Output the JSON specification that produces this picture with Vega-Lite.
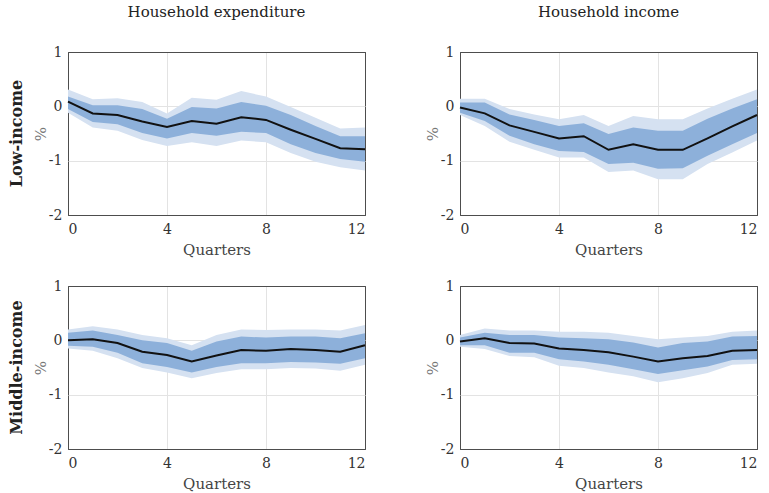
{
  "$schema": "https://vega.github.io/schema/vega-lite/v6.json",
  "background": "white",
  "padding": {"left": 8, "top": 5, "right": 1, "bottom": 2},
  "data": {"values": [
    {"r":"Low-income","c":"Household expenditure","q":0,"m":0.085,"l1":-0.05,"h1":0.18,"l2":-0.12,"h2":0.31},
    {"r":"Low-income","c":"Household expenditure","q":1,"m":-0.13,"l1":-0.29,"h1":0.02,"l2":-0.39,"h2":0.13},
    {"r":"Low-income","c":"Household expenditure","q":2,"m":-0.16,"l1":-0.33,"h1":0.02,"l2":-0.45,"h2":0.15},
    {"r":"Low-income","c":"Household expenditure","q":3,"m":-0.28,"l1":-0.49,"h1":-0.05,"l2":-0.62,"h2":0.08},
    {"r":"Low-income","c":"Household expenditure","q":4,"m":-0.38,"l1":-0.59,"h1":-0.23,"l2":-0.73,"h2":-0.13},
    {"r":"Low-income","c":"Household expenditure","q":5,"m":-0.27,"l1":-0.49,"h1":-0.01,"l2":-0.66,"h2":0.16},
    {"r":"Low-income","c":"Household expenditure","q":6,"m":-0.32,"l1":-0.54,"h1":-0.04,"l2":-0.73,"h2":0.12},
    {"r":"Low-income","c":"Household expenditure","q":7,"m":-0.2,"l1":-0.47,"h1":0.08,"l2":-0.63,"h2":0.28},
    {"r":"Low-income","c":"Household expenditure","q":8,"m":-0.25,"l1":-0.49,"h1":0.01,"l2":-0.66,"h2":0.18},
    {"r":"Low-income","c":"Household expenditure","q":9,"m":-0.43,"l1":-0.7,"h1":-0.16,"l2":-0.86,"h2":-0.01},
    {"r":"Low-income","c":"Household expenditure","q":10,"m":-0.6,"l1":-0.86,"h1":-0.36,"l2":-1.02,"h2":-0.21},
    {"r":"Low-income","c":"Household expenditure","q":11,"m":-0.77,"l1":-0.97,"h1":-0.55,"l2":-1.12,"h2":-0.41},
    {"r":"Low-income","c":"Household expenditure","q":12,"m":-0.79,"l1":-1.02,"h1":-0.55,"l2":-1.18,"h2":-0.39},
    {"r":"Low-income","c":"Household income","q":0,"m":-0.02,"l1":-0.12,"h1":0.07,"l2":-0.16,"h2":0.14},
    {"r":"Low-income","c":"Household income","q":1,"m":-0.13,"l1":-0.27,"h1":0.07,"l2":-0.36,"h2":0.14},
    {"r":"Low-income","c":"Household income","q":2,"m":-0.35,"l1":-0.54,"h1":-0.15,"l2":-0.65,"h2":-0.05},
    {"r":"Low-income","c":"Household income","q":3,"m":-0.47,"l1":-0.7,"h1":-0.25,"l2":-0.8,"h2":-0.15},
    {"r":"Low-income","c":"Household income","q":4,"m":-0.59,"l1":-0.82,"h1":-0.36,"l2":-0.94,"h2":-0.24},
    {"r":"Low-income","c":"Household income","q":5,"m":-0.55,"l1":-0.84,"h1":-0.31,"l2":-0.94,"h2":-0.16},
    {"r":"Low-income","c":"Household income","q":6,"m":-0.8,"l1":-1.06,"h1":-0.51,"l2":-1.21,"h2":-0.36},
    {"r":"Low-income","c":"Household income","q":7,"m":-0.7,"l1":-1.04,"h1":-0.39,"l2":-1.18,"h2":-0.18},
    {"r":"Low-income","c":"Household income","q":8,"m":-0.8,"l1":-1.15,"h1":-0.45,"l2":-1.34,"h2":-0.24},
    {"r":"Low-income","c":"Household income","q":9,"m":-0.8,"l1":-1.14,"h1":-0.45,"l2":-1.34,"h2":-0.24},
    {"r":"Low-income","c":"Household income","q":10,"m":-0.59,"l1":-0.91,"h1":-0.23,"l2":-1.06,"h2":-0.04},
    {"r":"Low-income","c":"Household income","q":11,"m":-0.37,"l1":-0.7,"h1":-0.04,"l2":-0.85,"h2":0.14},
    {"r":"Low-income","c":"Household income","q":12,"m":-0.16,"l1":-0.49,"h1":0.13,"l2":-0.63,"h2":0.31},
    {"r":"Middle-income","c":"Household expenditure","q":0,"m":0.0,"l1":-0.1,"h1":0.14,"l2":-0.15,"h2":0.2},
    {"r":"Middle-income","c":"Household expenditure","q":1,"m":0.02,"l1":-0.12,"h1":0.18,"l2":-0.19,"h2":0.26},
    {"r":"Middle-income","c":"Household expenditure","q":2,"m":-0.05,"l1":-0.23,"h1":0.1,"l2":-0.33,"h2":0.2},
    {"r":"Middle-income","c":"Household expenditure","q":3,"m":-0.21,"l1":-0.42,"h1":0.0,"l2":-0.51,"h2":0.1},
    {"r":"Middle-income","c":"Household expenditure","q":4,"m":-0.27,"l1":-0.49,"h1":-0.05,"l2":-0.59,"h2":0.04},
    {"r":"Middle-income","c":"Household expenditure","q":5,"m":-0.39,"l1":-0.59,"h1":-0.19,"l2":-0.7,"h2":-0.09},
    {"r":"Middle-income","c":"Household expenditure","q":6,"m":-0.28,"l1":-0.49,"h1":-0.02,"l2":-0.6,"h2":0.1},
    {"r":"Middle-income","c":"Household expenditure","q":7,"m":-0.18,"l1":-0.42,"h1":0.07,"l2":-0.53,"h2":0.2},
    {"r":"Middle-income","c":"Household expenditure","q":8,"m":-0.19,"l1":-0.42,"h1":0.05,"l2":-0.53,"h2":0.19},
    {"r":"Middle-income","c":"Household expenditure","q":9,"m":-0.16,"l1":-0.4,"h1":0.07,"l2":-0.51,"h2":0.2},
    {"r":"Middle-income","c":"Household expenditure","q":10,"m":-0.18,"l1":-0.41,"h1":0.07,"l2":-0.52,"h2":0.2},
    {"r":"Middle-income","c":"Household expenditure","q":11,"m":-0.21,"l1":-0.43,"h1":0.04,"l2":-0.56,"h2":0.18},
    {"r":"Middle-income","c":"Household expenditure","q":12,"m":-0.09,"l1":-0.33,"h1":0.13,"l2":-0.45,"h2":0.28},
    {"r":"Middle-income","c":"Household income","q":0,"m":-0.02,"l1":-0.09,"h1":0.05,"l2":-0.12,"h2":0.1},
    {"r":"Middle-income","c":"Household income","q":1,"m":0.04,"l1":-0.09,"h1":0.14,"l2":-0.16,"h2":0.22},
    {"r":"Middle-income","c":"Household income","q":2,"m":-0.05,"l1":-0.23,"h1":0.1,"l2":-0.29,"h2":0.18},
    {"r":"Middle-income","c":"Household income","q":3,"m":-0.06,"l1":-0.23,"h1":0.1,"l2":-0.31,"h2":0.18},
    {"r":"Middle-income","c":"Household income","q":4,"m":-0.15,"l1":-0.35,"h1":0.05,"l2":-0.47,"h2":0.16},
    {"r":"Middle-income","c":"Household income","q":5,"m":-0.18,"l1":-0.39,"h1":0.04,"l2":-0.51,"h2":0.16},
    {"r":"Middle-income","c":"Household income","q":6,"m":-0.22,"l1":-0.45,"h1":0.02,"l2":-0.59,"h2":0.14},
    {"r":"Middle-income","c":"Household income","q":7,"m":-0.3,"l1":-0.53,"h1":-0.04,"l2":-0.66,"h2":0.08},
    {"r":"Middle-income","c":"Household income","q":8,"m":-0.39,"l1":-0.62,"h1":-0.13,"l2":-0.77,"h2":0.02},
    {"r":"Middle-income","c":"Household income","q":9,"m":-0.33,"l1":-0.55,"h1":-0.05,"l2":-0.7,"h2":0.05},
    {"r":"Middle-income","c":"Household income","q":10,"m":-0.29,"l1":-0.48,"h1":-0.02,"l2":-0.6,"h2":0.08},
    {"r":"Middle-income","c":"Household income","q":11,"m":-0.19,"l1":-0.36,"h1":0.07,"l2":-0.45,"h2":0.16},
    {"r":"Middle-income","c":"Household income","q":12,"m":-0.18,"l1":-0.35,"h1":0.08,"l2":-0.43,"h2":0.18}
  ]},
  "facet": {
    "row": {"field": "r", "type": "nominal", "sort": ["Low-income", "Middle-income"],
      "header": {"title": null, "labelFont": "DejaVu Serif", "labelFontSize": 16, "labelFontWeight": "bold", "labelColor": "#222", "labelAngle": -90, "labelPadding": -1}},
    "column": {"field": "c", "type": "nominal", "sort": ["Household expenditure", "Household income"],
      "header": {"title": null, "labelFont": "DejaVu Serif", "labelFontSize": 15, "labelColor": "#222", "labelPadding": 24}}
  },
  "spacing": {"row": 20, "column": 54},
  "resolve": {"axis": {"x": "independent", "y": "independent"}},
  "spec": {
    "width": 297,
    "height": 163,
    "encoding": {
      "x": {"field": "q", "type": "quantitative", "scale": {"domain": [0, 12], "nice": false},
        "axis": {"title": "Quarters", "values": [0, 4, 8, 12], "grid": true, "labelExpr": "'' + datum.value",
          "gridColor": {"condition": {"test": "datum.value == 0 || datum.value == 12", "value": "#4d4d4d"}, "value": "#e3e3e3"}}}
    },
    "layer": [
      {"mark": {"type": "area", "color": "#d5e1f1", "opacity": 1},
        "encoding": {
          "y": {"field": "l2", "type": "quantitative", "scale": {"domain": [-2, 1], "nice": false},
            "axis": {"title": "%", "values": [-2, -1, 0, 1], "grid": true, "labelExpr": "'' + datum.value",
              "gridColor": {"condition": {"test": "datum.value == -2 || datum.value == 1", "value": "#4d4d4d"}, "value": "#e3e3e3"}}},
          "y2": {"field": "h2"}}},
      {"mark": {"type": "area", "color": "#8db0da", "opacity": 1},
        "encoding": {"y": {"field": "l1", "type": "quantitative"}, "y2": {"field": "h1"}}},
      {"mark": {"type": "rule", "color": "#7a7a7a", "strokeWidth": 1.5},
        "encoding": {"y": {"datum": 0}}},
      {"mark": {"type": "line", "color": "#111111", "strokeWidth": 2},
        "encoding": {"y": {"field": "m", "type": "quantitative"}}}
    ]
  },
  "config": {
    "view": {"stroke": "#4d4d4d", "strokeWidth": 1},
    "font": "DejaVu Serif",
    "axis": {
      "domain": false,
      "ticks": false,
      "labelFont": "DejaVu Serif",
      "labelFontSize": 14,
      "labelColor": "#333",
      "labelPadding": 7,
      "gridWidth": 1,
      "titleFont": "DejaVu Serif",
      "titleFontSize": 15,
      "titleFontWeight": "normal",
      "titleColor": "#444"
    },
    "axisY": {"titleColor": "#777", "titlePadding": 0, "labelPadding": 6},
    "axisX": {"titlePadding": 6}
  }
}
